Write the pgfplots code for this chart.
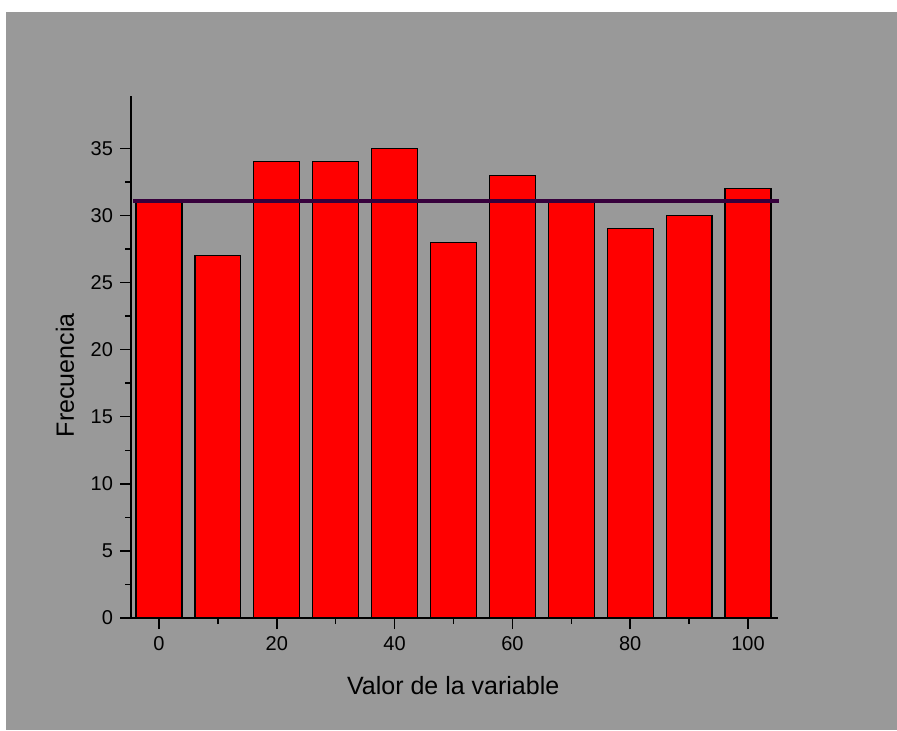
\documentclass[border=0pt]{standalone}
\usepackage{fontspec}
\setmainfont{Liberation Sans}
\usepackage{pgfplots}
\pgfplotsset{compat=1.18}
\definecolor{bg}{RGB}{153,153,153}
\definecolor{meanline}{RGB}{55,0,60}
\begin{document}
\begin{tikzpicture}
\fill[white] (0pt,0pt) rectangle (448.5pt,365pt);
\fill[bg] (3pt,0pt) rectangle (448.5pt,359pt);
\begin{axis}[
  at={(65.5pt,56pt)}, anchor=south west,
  scale only axis, width=323.5pt, height=261pt,
  xmin=-4.75, xmax=105.1, ymin=0, ymax=38.9,
  axis x line*=bottom, axis y line*=left,
  axis line style={-, black, line width=0.85pt},
  tick align=outside,
  major tick length=5.5pt, minor tick length=3pt,
  tick style={black, line width=0.75pt},
  xtick={0,20,...,100}, ytick={0,5,...,35},
  minor x tick num=1, minor y tick num=1,
  /pgf/number format/assume math mode=true,
  tick label style={font=\fontsize{10}{12}\selectfont},
  label style={font=\fontsize{12.5}{15}\selectfont},
  xlabel={Valor de la variable},
  ylabel={Frecuencia},
  xlabel style={at={(axis description cs:0.498,-0.130)}, anchor=center},
  ylabel style={at={(axis description cs:-0.102,0.465)}, anchor=center},
  clip=false,
]
\addplot[ybar, bar width=7.8, fill=red, draw=black, line width=0.6pt]
  coordinates {(0,31) (10,27) (20,34) (30,34) (40,35) (50,28) (60,33) (70,31) (80,29) (90,30) (100,32)};
\addplot[meanline, line width=2pt, forget plot]
  coordinates {(-4.4,31.1) (105.3,31.1)};
\end{axis}
\end{tikzpicture}
\end{document}
